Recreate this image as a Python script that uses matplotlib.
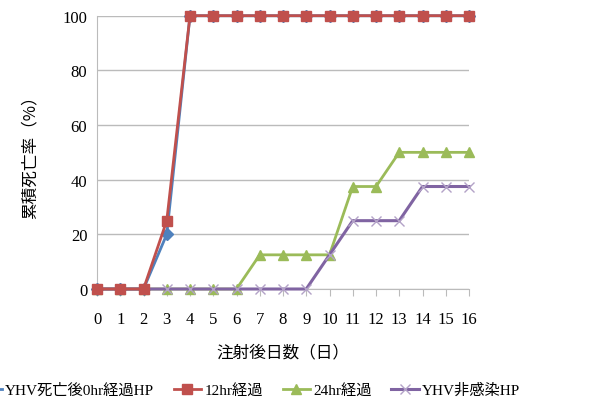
import matplotlib
matplotlib.use("Agg")
import matplotlib.pyplot as plt

plt.rcParams['font.family'] = ['Liberation Serif', 'Noto Sans CJK JP']

days = list(range(17))
s_0hr = [0, 0, 0, 20, 100, 100, 100, 100, 100, 100, 100, 100, 100, 100, 100, 100, 100]
s_12hr = [0, 0, 0, 25, 100, 100, 100, 100, 100, 100, 100, 100, 100, 100, 100, 100, 100]
s_24hr = [0, 0, 0, 0, 0, 0, 0, 12.5, 12.5, 12.5, 12.5, 37.5, 37.5, 50, 50, 50, 50]
s_none = [0, 0, 0, 0, 0, 0, 0, 0, 0, 0, 12.5, 25, 25, 25, 37.5, 37.5, 37.5]
names = ["YHV死亡後0hr経過HP", "12hr経過", "24hr経過", "YHV非感染HP"]
yticks = [0, 20, 40, 60, 80, 100]

fig = plt.figure(figsize=(5.92, 4.10), dpi=100)
ax = fig.add_axes([97/592, 1-290/410, (469-97)/592, (290-16.7)/410])

ax.plot(days, s_0hr, color='#4F81BD', lw=2, marker='D', ms=6, clip_on=False, zorder=3, label=names[0])
ax.plot(days, s_12hr, color='#C0504D', lw=2, marker='s', ms=7.5, clip_on=False, zorder=4, label=names[1])
ax.plot(days, s_24hr, color='#9BBB59', lw=2, marker='^', ms=7.5, clip_on=False, zorder=3, label=names[2])
ax.plot(days, s_none, color='#8064A2', lw=2.2, marker='x', ms=7.5, mec='#B3A2C7', mew=1, clip_on=False, zorder=3, label=names[3])

ax.set_xlim(0, 16)
ax.set_ylim(0, 100)
ax.set_xticks(days)
ax.set_yticks(yticks)
ax.tick_params(axis='y', length=0, labelsize=12, pad=7)
ax.tick_params(axis='x', length=5, direction='out', color='#BBBBBB', labelsize=12, pad=11)
ax.grid(axis='y', color='#BBBBBB', lw=1)
ax.set_axisbelow(True)
for s in ['top', 'right']:
    ax.spines[s].set_visible(False)
for s in ['left', 'bottom']:
    ax.spines[s].set_color('#BBBBBB')

ax.set_xlabel("注射後日数（日）", fontsize=12, family=['Noto Sans CJK JP'], labelpad=12)
ax.set_ylabel("累積死亡率（%）", fontsize=12, family=['Noto Sans CJK JP'], labelpad=17)

fig.legend(loc='center left', bbox_to_anchor=(-32/592, 1-391/410), ncol=4, frameon=False,
           borderaxespad=0, fontsize=11, handlelength=1.8, columnspacing=1.3, handletextpad=0.2)

fig.savefig("out.png", dpi=100)
